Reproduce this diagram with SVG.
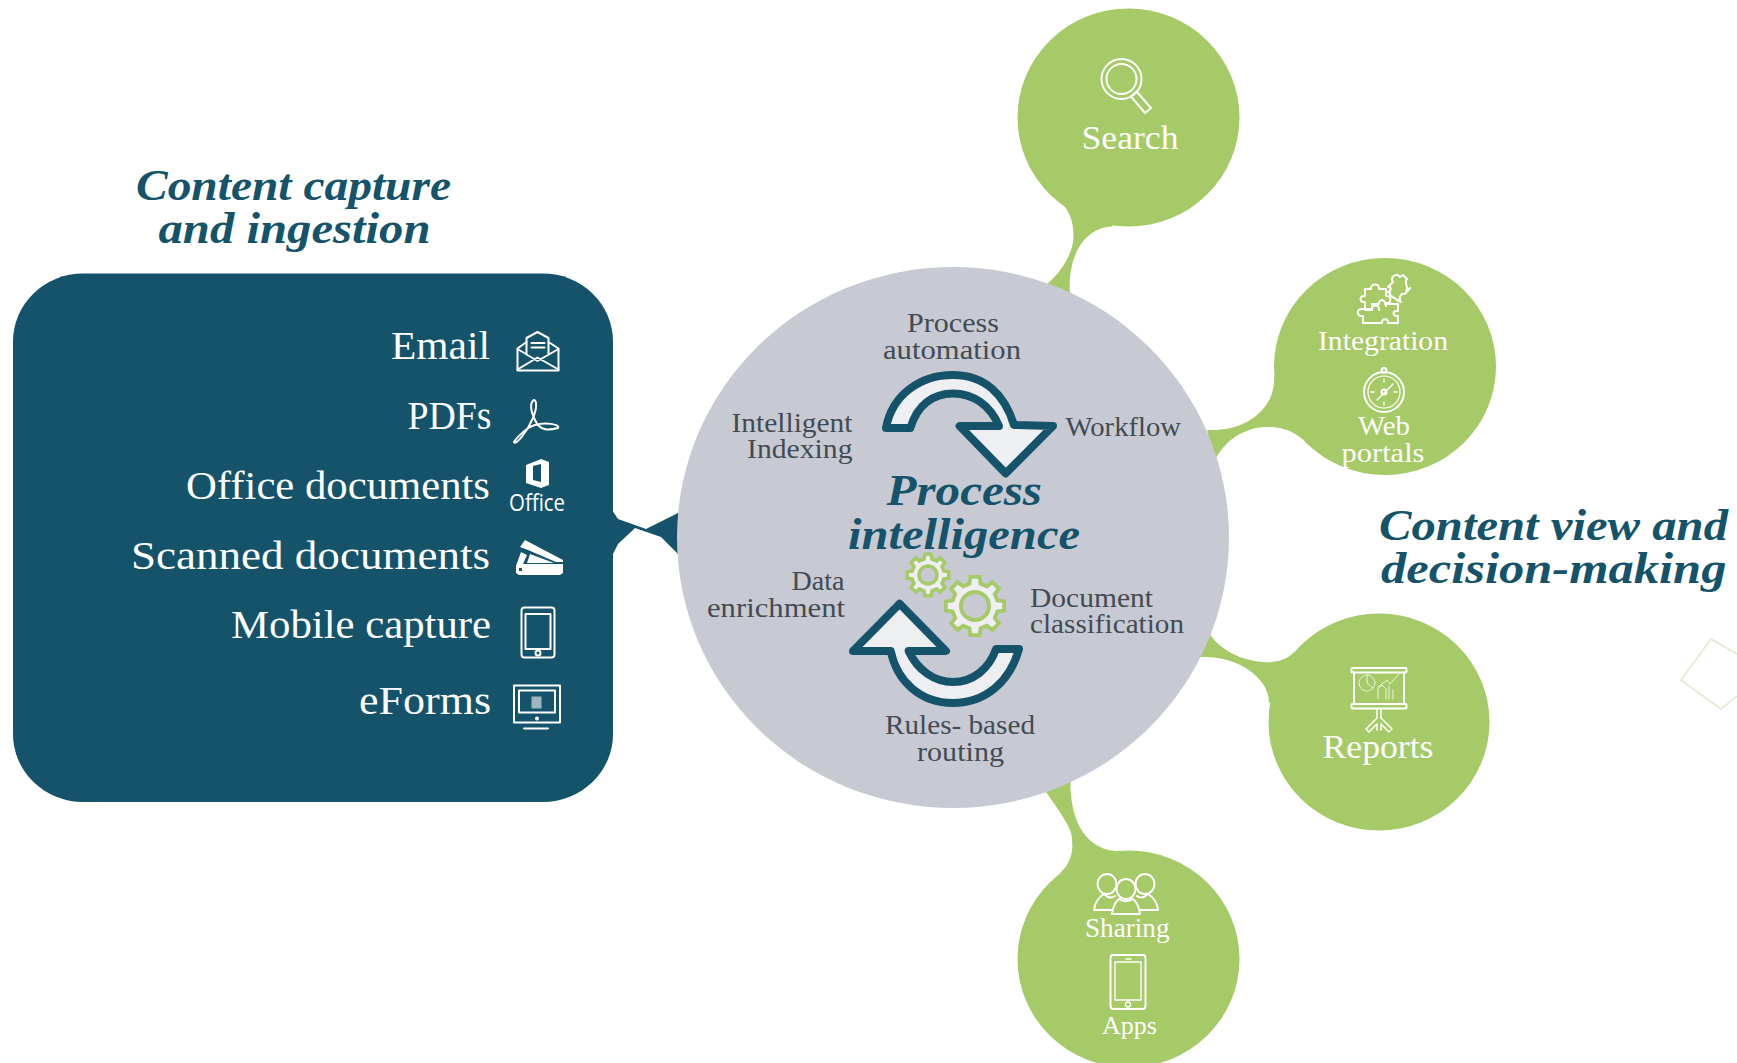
<svg xmlns="http://www.w3.org/2000/svg" width="1737" height="1063" viewBox="0 0 1737 1063">
<style>
text{font-family:"Liberation Serif","DejaVu Serif",serif}
.title{font-size:45px;font-weight:bold;font-style:italic;fill:#14536a}
.item{font-size:40px;fill:#fff}
.lab{font-size:28px;fill:#434b52}
.gl{fill:#fff}
.dark{fill:#14536a}
.green{fill:#a5ca67}
.ic{fill:none;stroke:#fff;stroke-width:2;stroke-linejoin:round;stroke-linecap:round}
.arrow{fill:#eeeff2;stroke:#14536a;stroke-width:8;stroke-linejoin:round}
.gear{fill:#eeeff2;stroke:#a5ca67;stroke-width:9}
</style>
<defs>
<polygon id="gearShape" points="75.7,-18.9 98.8,-15.6 98.8,15.6 75.7,18.9 66.9,40.2 80.9,58.8 58.8,80.9 40.2,66.9 18.9,75.7 15.6,98.8 -15.6,98.8 -18.9,75.7 -40.2,66.9 -58.8,80.9 -80.9,58.8 -66.9,40.2 -75.7,18.9 -98.8,15.6 -98.8,-15.6 -75.7,-18.9 -66.9,-40.2 -80.9,-58.8 -58.8,-80.9 -40.2,-66.9 -18.9,-75.7 -15.6,-98.8 15.6,-98.8 18.9,-75.7 40.2,-66.9 58.8,-80.9 80.9,-58.8 66.9,-40.2"/>
</defs>

<g id="connectors">
<path class="dark" d="M612 510L618 519L646 529L682 511V558L661 537L635 528L618 544L612 556Z"/>
<path class="green" d="M1075 190L1060 202C1074 213 1076 236 1071 250C1066 264 1058 275 1045 286L1070 295C1067 258 1083 228 1112 226.500L1128 200Z"/>
<path class="green" d="M1290 370L1274 377C1276 405 1250 432 1207 430L1215 460C1225 440 1245 427 1267 427C1282 427 1293 431 1302 439L1320 420Z"/>
<path class="green" d="M1320 680L1294 652C1287 660 1275 663 1263 662C1240 660 1220 650 1209 633L1190 657H1200C1240 655 1270 680 1269 703L1290 700Z"/>
<path class="green" d="M1046 792C1062 815 1073 830 1072 840C1074 855 1068 866 1060 873L1090 880L1115 851C1082 848 1070 815 1070.500 782Z"/>
</g>

<g id="capture-title">
<text class="title" x="136" y="200" textLength="315" lengthAdjust="spacingAndGlyphs">Content capture</text>
<text class="title" x="158.500" y="243" textLength="272" lengthAdjust="spacingAndGlyphs">and ingestion</text>
</g>

<g id="capture-box">
<rect class="dark" x="13" y="273.500" width="600" height="528.500" rx="70" ry="68"/>
<text class="item" x="391" y="359" textLength="99" lengthAdjust="spacingAndGlyphs">Email</text>
<text class="item" x="407.500" y="429" textLength="84" lengthAdjust="spacingAndGlyphs">PDFs</text>
<text class="item" x="186" y="498.500" textLength="304" lengthAdjust="spacingAndGlyphs">Office documents</text>
<text class="item" x="131" y="569" textLength="359" lengthAdjust="spacingAndGlyphs">Scanned documents</text>
<text class="item" x="231" y="638" textLength="260" lengthAdjust="spacingAndGlyphs">Mobile capture</text>
<text class="item" x="359" y="714" textLength="132" lengthAdjust="spacingAndGlyphs">eForms</text>
<g id="icon-email" class="ic">
<path d="M517.500 348.500V370.500H558.500V348.500L548.500 342V338L537.500 332L526.500 338V342Z"/>
<path d="M517.500 369.500L537.500 357.500L558.500 369.500M517.500 349L537.500 361L558.500 349M526.500 342V354M548.500 342V354M531.500 343H544.500M531.500 347.500H544.500"/>
</g>
<path id="icon-pdf" class="ic" d="M534 400C530 402 530 410 535 420C540 432 550 430 558 428C560 424 545 422 535 425C525 428 515 440 514 442C516 446 528 430 533 418C537 408 537 401 534 400Z"/>
<g id="icon-office">
<path class="gl" fill-rule="evenodd" d="M526 465L541 459L549 462V485L541 488L526 483ZM533 466V480L541 482V464Z"/>
<text x="509" y="511" textLength="56" lengthAdjust="spacingAndGlyphs" style="font-family:'Open Sans',sans-serif;font-size:23px;fill:#fff">Office</text>
</g>
<g id="icon-scanner" class="gl">
<path d="M520 547L525 540L563 560V562L556 562L528 550Z"/>
<path d="M521 552L527 555L523 564H563V573L560 575H519L516 573V566Z"/>
<path d="M530 554L554 563H527Z"/>
<rect x="519" y="568" width="3" height="3" fill="#14536a"/>
</g>
<g id="icon-tablet" class="ic">
<rect x="521.500" y="607.500" width="33" height="50" rx="3"/>
<rect x="525.500" y="614" width="25" height="35"/>
<circle cx="538" cy="653" r="2.500"/>
</g>
<g id="icon-monitor" class="ic">
<rect x="514" y="685.500" width="46" height="37"/>
<rect x="519" y="690.500" width="36" height="22"/>
<path d="M524 728.500H548"/>
<circle cx="537" cy="718.500" r="1"/>
<rect x="531.500" y="696.500" width="10" height="12" fill="#9db6c2" stroke="none"/>
</g>
</g>

<g id="process-circle">
<ellipse cx="953" cy="537.500" rx="276" ry="270.500" fill="#c7cad2"/>
<path class="arrow" d="M886 428C892 395 920 375 953 375C985 375 1005 395 1014 425L1053 426L1005.700 473.400L959.600 426L999 426C990 405 973 393.400 953 393.400C933 393.400 917 405 910.400 428Z"/>
<path class="arrow" d="M899.600 603.800L946 651L908.600 651C918 671 935 682 953 682C973 682 989 669 996 649L1019 649C1010 682 985 703 953 703C920 703 897 681 890.700 651L853 651Z"/>
<use href="#gearShape" class="gear" transform="translate(928 575) scale(.21)" style="stroke-width:17"/>
<circle cx="928" cy="575" r="9" fill="#c7cad2" stroke="#a5ca67" stroke-width="3.500"/>
<use href="#gearShape" class="gear" transform="translate(975 606) scale(.295)" style="stroke-width:13"/>
<circle cx="975" cy="606" r="14" fill="#c7cad2" stroke="#a5ca67" stroke-width="4"/>
<text class="lab" x="907" y="331.500" textLength="92" lengthAdjust="spacingAndGlyphs">Process</text>
<text class="lab" x="883" y="358.500" textLength="138" lengthAdjust="spacingAndGlyphs">automation</text>
<text class="lab" x="731.500" y="431.500" textLength="121" lengthAdjust="spacingAndGlyphs">Intelligent</text>
<text class="lab" x="747" y="457.500" textLength="105.500" lengthAdjust="spacingAndGlyphs">Indexing</text>
<text class="lab" x="1065.500" y="435.500" textLength="115.500" lengthAdjust="spacingAndGlyphs">Workflow</text>
<text class="title" x="886.500" y="505" textLength="155.500" lengthAdjust="spacingAndGlyphs">Process</text>
<text class="title" x="848" y="548.500" textLength="232" lengthAdjust="spacingAndGlyphs">intelligence</text>
<text class="lab" x="791.500" y="590" textLength="53" lengthAdjust="spacingAndGlyphs">Data</text>
<text class="lab" x="707" y="616.500" textLength="138" lengthAdjust="spacingAndGlyphs">enrichment</text>
<text class="lab" x="1030" y="607" textLength="123" lengthAdjust="spacingAndGlyphs">Document</text>
<text class="lab" x="1030" y="633" textLength="154" lengthAdjust="spacingAndGlyphs">classification</text>
<text class="lab" x="885" y="734" textLength="150" lengthAdjust="spacingAndGlyphs">Rules- based</text>
<text class="lab" x="917" y="760.500" textLength="87" lengthAdjust="spacingAndGlyphs">routing</text>
</g>

<g id="node-search">
<ellipse class="green" cx="1128.500" cy="117.500" rx="111" ry="109"/>
<g class="ic">
<circle cx="1121.500" cy="79" r="20"/>
<circle cx="1121.500" cy="79" r="15"/>
<path d="M1131 96.500L1136.500 91.500L1151 108L1145 113Z"/>
</g>
<text class="gl" x="1081.500" y="149" textLength="97" lengthAdjust="spacingAndGlyphs" font-size="34">Search</text>
</g>

<g id="node-integration">
<ellipse class="green" cx="1385" cy="366.500" rx="111" ry="108.500"/>
<g class="ic">
<path d="M1365 289H1371C1370 283 1380 283 1379 289H1386V296C1392 295 1392 304 1386 303V306"/>
<path d="M1365 289V296C1359 295 1359 303 1365 302V310H1372C1371 304 1380 304 1379 310"/>
<path d="M1372 310V304H1379C1378 299 1386 299 1385 304H1398V311"/>
<path d="M1398 311C1392 310 1392 316 1398 316V323H1388C1389 318 1381 318 1382 323H1363V316"/>
<path d="M1363 316C1356 317 1356 308 1363 309H1372"/>
<path d="M1388 287L1393 282C1389 277 1397 272 1400 277L1403 275L1407 279C1403 283 1410 288 1406 291L1410 288L1405 294C1401 292 1398 299 1401 302L1397 300C1393 296 1389 297 1390 293L1388 292C1392 291 1391 285 1388 287Z"/>
</g>
<g class="ic">
<circle cx="1384" cy="392" r="20"/>
<circle cx="1384" cy="392" r="16" stroke-width="1.200"/>
<circle cx="1384" cy="370.500" r="2.500"/>
<path d="M1377 400L1393 384M1384 379V382M1384 402V405M1371 392H1374M1394 392H1397" stroke-width="1.300"/>
<circle cx="1384" cy="392" r="2.500"/>
</g>
<text class="gl" x="1318" y="350" textLength="130" lengthAdjust="spacingAndGlyphs" font-size="28">Integration</text>
<text class="gl" x="1358" y="435" textLength="52" lengthAdjust="spacingAndGlyphs" font-size="28">Web</text>
<text class="gl" x="1341.500" y="462" textLength="83" lengthAdjust="spacingAndGlyphs" font-size="28">portals</text>
</g>

<g id="node-reports">
<ellipse class="green" cx="1379" cy="722" rx="110.500" ry="108.500"/>
<g class="ic">
<rect x="1351.500" y="668" width="55" height="4.500" rx="1"/>
<rect x="1351.500" y="704" width="55" height="4.500" rx="1"/>
<path d="M1354 672.500V704M1404 672.500V704"/>
<path d="M1377 708.500V718L1366 729L1369 732L1377 724V730M1381 708.500V718L1392 729L1389 732L1381 724V730" stroke-width="1.500"/>
<circle cx="1367" cy="683" r="8" stroke-width="1" opacity=".7"/>
<path d="M1367 675V683L1373 688M1378 699V689L1382 685L1386 689V699M1389 699V686M1393 699V690M1378 687L1387 680L1390 684L1400 673" stroke-width="1" opacity=".8"/>
</g>
<text class="gl" x="1322.500" y="758" textLength="111" lengthAdjust="spacingAndGlyphs" font-size="34">Reports</text>
</g>

<g id="node-sharing">
<ellipse class="green" cx="1128.500" cy="959" rx="111" ry="108.500"/>
<g class="ic">
<ellipse cx="1107" cy="884" rx="9.500" ry="10"/>
<ellipse cx="1145" cy="884" rx="9.500" ry="10"/>
<ellipse cx="1126" cy="889" rx="9.500" ry="10"/>
<path d="M1094 910C1095 901 1099 897 1104 894C1108 898 1112 898 1115 896M1158 910C1157 901 1153 897 1148 894C1144 898 1140 898 1137 896M1094 910H1112M1158 910H1140"/>
<path d="M1112 914C1113 906 1115 902 1119 899C1123 902 1129 902 1133 899C1137 902 1139 906 1140 914Z"/>
</g>
<text class="gl" x="1085" y="936.500" textLength="84.500" lengthAdjust="spacingAndGlyphs" font-size="27">Sharing</text>
<g class="ic">
<rect x="1110.500" y="955" width="35" height="54" rx="3"/>
<rect x="1115" y="962" width="26" height="38" stroke-width="1.300"/>
<circle cx="1128" cy="1004.500" r="2.500" stroke-width="1.300"/>
<path d="M1126 959H1131" stroke-width="1.300"/>
</g>
<text class="gl" x="1102" y="1034" textLength="55" lengthAdjust="spacingAndGlyphs" font-size="26">Apps</text>
</g>

<g id="view-title">
<text class="title" x="1379" y="539.500" textLength="349" lengthAdjust="spacingAndGlyphs">Content view and</text>
<text class="title" x="1381" y="582.500" textLength="345.500" lengthAdjust="spacingAndGlyphs">decision-making</text>
</g>

<path id="diamond" d="M1711 639L1681 680L1721 709L1737 696M1737 654L1711 639" fill="none" stroke="#dfe9cb" stroke-width="1.500"/>
</svg>
